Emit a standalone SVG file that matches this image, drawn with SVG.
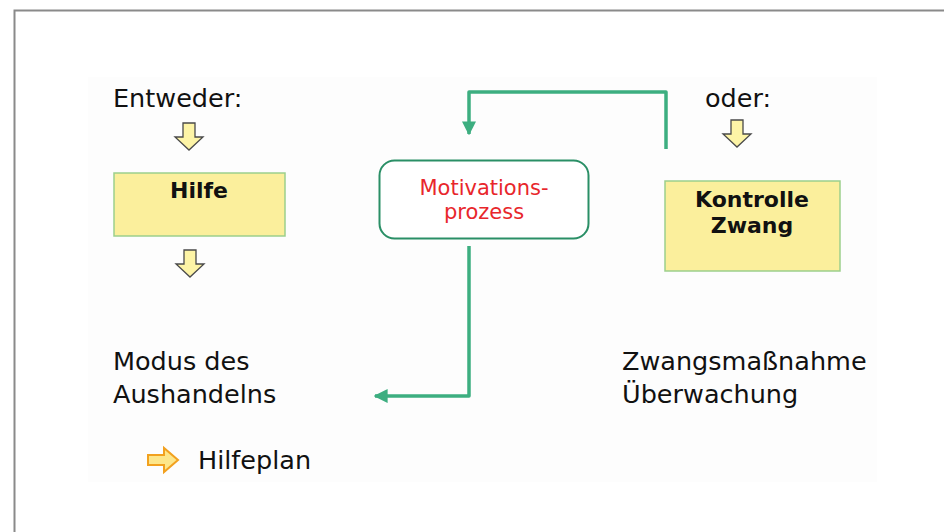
<svg xmlns="http://www.w3.org/2000/svg" width="944" height="532" viewBox="0 0 944 532">
<defs>
<style>
.t{font-family:"DejaVu Sans",Verdana,sans-serif;font-size:25.5px;fill:#111}
.b{font-family:"DejaVu Sans",Verdana,sans-serif;font-size:22px;font-weight:bold;fill:#111;text-anchor:middle}
.r{font-family:"DejaVu Sans",Verdana,sans-serif;font-size:21px;fill:#e8262b;text-anchor:middle}
.box{fill:#fbef9c;stroke:#9ccf8c;stroke-width:1.5}
.down{fill:#fdf4a6;stroke:#4a4a4a;stroke-width:1.3;stroke-linejoin:miter}
.con{fill:none;stroke:#3dae80;stroke-width:3.5;stroke-linejoin:round}
</style>
<marker id="ah" viewBox="0 0 10 10" refX="9" refY="5" markerWidth="4" markerHeight="4" orient="auto" markerUnits="strokeWidth">
<path d="M0,0 L10,5 L0,10 z" fill="#3dae80"/>
</marker>
<path id="darr" d="M-6,0 H6 V14 H14 L0,27 L-14,14 H-6 z"/>
</defs>
<rect width="944" height="532" fill="#ffffff"/>
<path d="M14.5,532 V10.5 H944" fill="none" stroke="#8a8a8a" stroke-width="2"/>
<rect x="88" y="77" width="789" height="405" fill="#fdfdfd"/>

<g id="connectors">
<path class="con" d="M666,149 V92 H469 V134" marker-end="url(#ah)"/>
<path class="con" d="M469,246 V396 H375" marker-end="url(#ah)"/>
</g>

<g id="entweder">
<text class="t" x="113" y="107">Entweder:</text>
<use href="#darr" x="189" y="123" class="down"/>
</g>

<g id="hilfe">
<rect class="box" x="114" y="173" width="171" height="63"/>
<text class="b" x="199" y="198">Hilfe</text>
</g>

<g id="arrow2">
<use href="#darr" x="190" y="250" class="down"/>
</g>

<g id="motivation">
<rect x="379.5" y="160.5" width="209" height="78" rx="15" ry="15" fill="#ffffff" stroke="#2a8f66" stroke-width="2"/>
<text class="r" x="484" y="195">Motivations-</text>
<text class="r" x="484" y="219">prozess</text>
</g>

<g id="oder">
<text class="t" x="705" y="107">oder:</text>
<use href="#darr" x="737" y="120" class="down"/>
</g>

<g id="kontrolle">
<rect class="box" x="665" y="181" width="175" height="90"/>
<text class="b" x="752" y="207">Kontrolle</text>
<text class="b" x="752" y="233">Zwang</text>
</g>

<g id="modus">
<text class="t" x="113" y="370">Modus des</text>
<text class="t" x="113" y="403">Aushandelns</text>
</g>

<g id="hilfeplan">
<path d="M148,455 H164 V448 L178,460 L164,472 V465 H148 z" fill="#fde68a" stroke="#f2a11f" stroke-width="2"/>
<text class="t" x="198" y="469">Hilfeplan</text>
</g>

<g id="zwang">
<text class="t" x="622" y="370">Zwangsmaßnahme</text>
<text class="t" x="622" y="403">Überwachung</text>
</g>
</svg>
